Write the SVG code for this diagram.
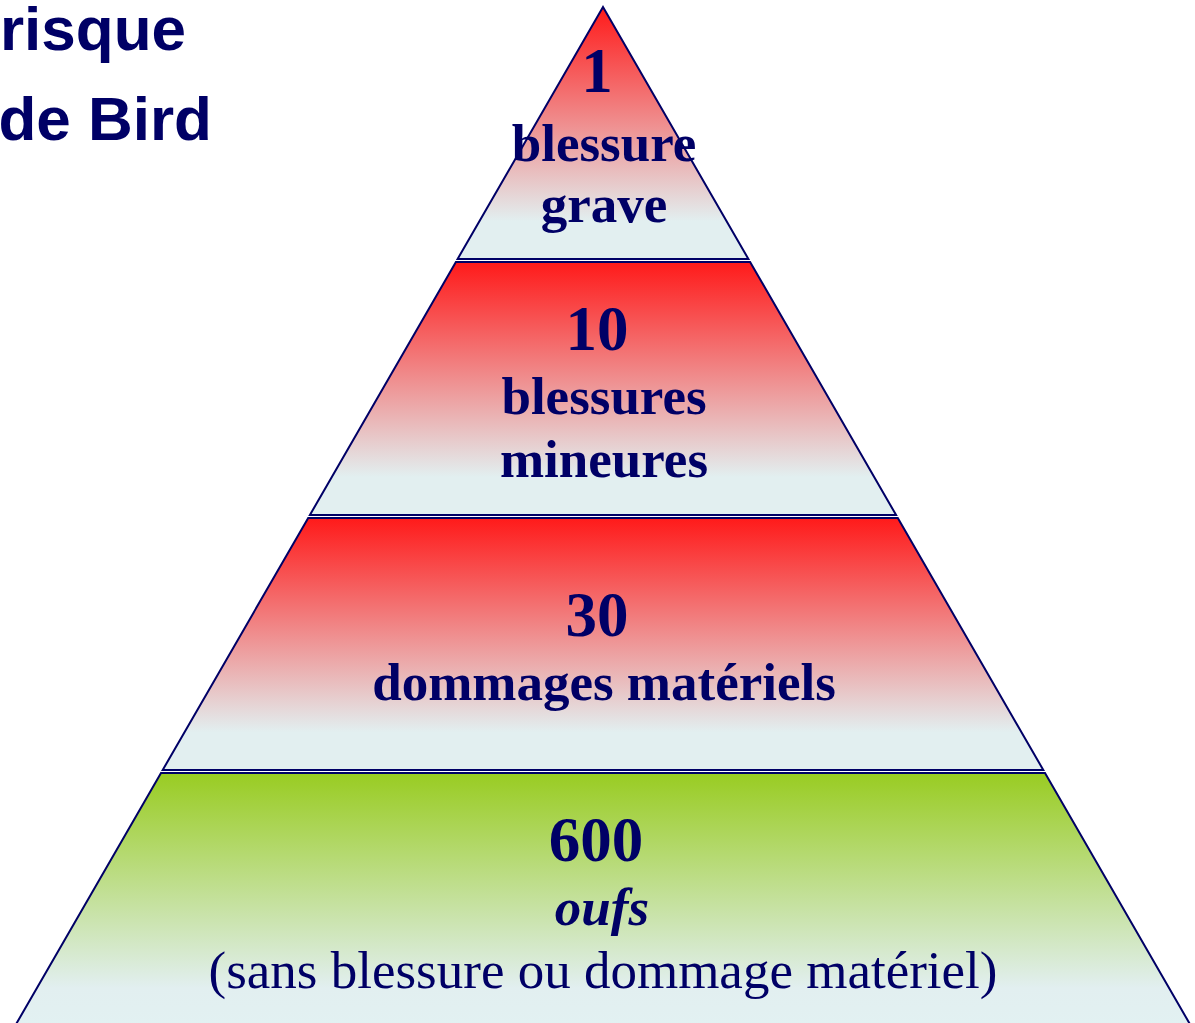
<svg xmlns="http://www.w3.org/2000/svg" width="1195" height="1023" viewBox="0 0 1195 1023">
<defs>
<linearGradient id="gRed" x1="0" y1="0" x2="0" y2="1">
<stop offset="0" stop-color="#ff1a1a"/>
<stop offset="0.85" stop-color="#e2eff0"/>
<stop offset="1" stop-color="#e2eff0"/>
</linearGradient>
<linearGradient id="gGreen" x1="0" y1="0" x2="0" y2="1">
<stop offset="0" stop-color="#99cc22"/>
<stop offset="0.85" stop-color="#e2eff0"/>
<stop offset="1" stop-color="#e2f1f2"/>
</linearGradient>
<style>
.band{stroke:#000066;stroke-width:2;stroke-linejoin:miter}
.t{font-family:"Liberation Serif","Times New Roman",serif;font-weight:bold;fill:#000066;text-anchor:middle}
.num{font-size:63px}
.lbl{font-size:53px}
.it{font-size:53px;font-style:italic}
.reg{font-family:"Liberation Serif","Times New Roman",serif;font-size:53px;fill:#000066;text-anchor:middle}
.title{font-family:"Liberation Sans",Arial,sans-serif;font-weight:bold;font-size:62px;fill:#000066;text-anchor:end}
</style>
</defs>
<rect width="1195" height="1023" fill="#ffffff"/>
<g id="title">
<text class="title" x="186" y="50">risque</text>
<text class="title" x="212" y="140">de Bird</text>
</g>
<g id="level1">
<polygon class="band" points="603,7 748.4,259 457.6,259" fill="url(#gRed)"/>
<text class="t num" x="597" y="92">1</text>
<text class="t lbl" x="604" y="161">blessure</text>
<text class="t lbl" x="604" y="222">grave</text>
</g>
<g id="level2">
<polygon class="band" points="455.9,262 750.1,262 896.1,515 309.9,515" fill="url(#gRed)"/>
<text class="t num" x="597" y="350">10</text>
<text class="t lbl" x="604" y="414">blessures</text>
<text class="t lbl" x="604" y="477">mineures</text>
</g>
<g id="level3">
<polygon class="band" points="308.2,518 897.8,518 1043.3,770 162.7,770" fill="url(#gRed)"/>
<text class="t num" x="597" y="636">30</text>
<text class="t lbl" x="604" y="700">dommages matériels</text>
</g>
<g id="level4">
<polygon class="band" points="161,773 1045,773 1191,1026 15,1026" fill="url(#gGreen)"/>
<text class="t num" x="596" y="861">600</text>
<text class="t it" x="602" y="925">oufs</text>
<text class="reg" x="603" y="988">(sans blessure ou dommage matériel)</text>
</g>
<g id="connectors"/>
</svg>
